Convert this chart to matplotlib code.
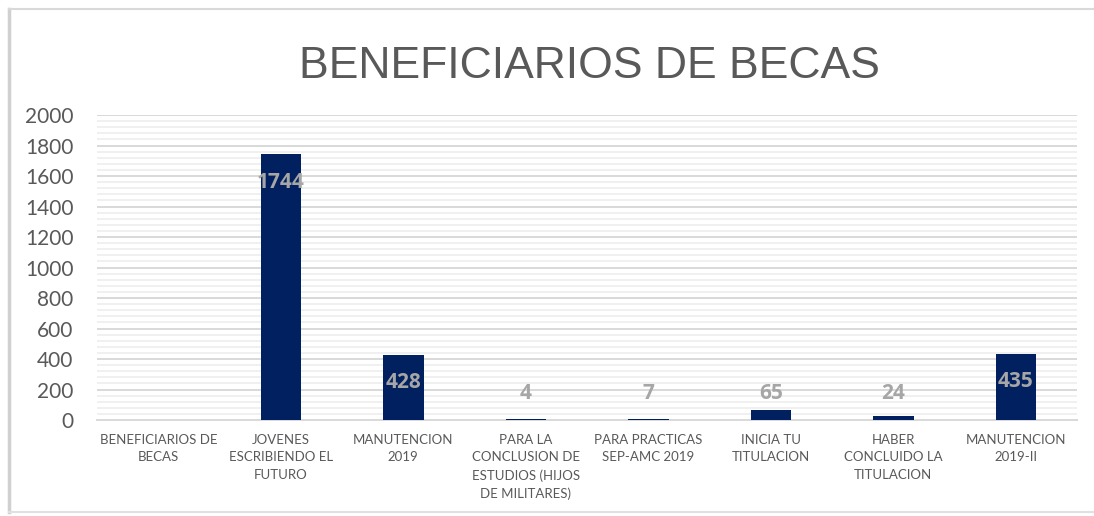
import matplotlib
matplotlib.use("Agg")
import matplotlib.pyplot as plt
from matplotlib.lines import Line2D
import numpy as np

plt.rcParams['font.family'] = ['Lato', 'DejaVu Sans']

categorias = ["BENEFICIARIOS DE\nBECAS", "JOVENES\nESCRIBIENDO EL\nFUTURO", "MANUTENCION\n2019",
              "PARA LA\nCONCLUSION DE\nESTUDIOS (HIJOS\nDE MILITARES)", "PARA PRACTICAS\nSEP-AMC 2019",
              "INICIA TU\nTITULACION", "HABER\nCONCLUIDO LA\nTITULACION", "MANUTENCION\n2019-II"]
valores = [0, 1744, 428, 4, 7, 65, 24, 435]
etiquetas = ["", "1744", "428", "4", "7", "65", "24", "435"]

fig = plt.figure(figsize=(10.94, 5.16), dpi=100)
ax = fig.add_axes([0.0887, 0.186, 0.8958, 0.591])

x = np.arange(len(categorias))
ax.bar(x, valores, width=0.33, color='#002060', zorder=3)

ax.set_xlim(-0.5, len(categorias) - 0.5)
ax.set_ylim(0, 2000)
ax.set_yticks(np.arange(0, 2001, 200))
ax.set_yticks(np.arange(0, 2001, 40), minor=True)
ax.grid(which='major', axis='y', color='#d9d9d9', linewidth=1.4, zorder=1)
ax.grid(which='minor', axis='y', color='#f0f0f0', linewidth=1.4, zorder=0)
ax.tick_params(axis='y', which='both', length=0, labelsize=15, labelcolor='#595959', pad=17)
ax.tick_params(axis='x', length=0, labelsize=9.5, labelcolor='#595959', pad=10)
ax.set_xticks(x)
ax.set_xticklabels(categorias, linespacing=1.55)
for s in ['top', 'right', 'left']:
    ax.spines[s].set_visible(False)
ax.spines['bottom'].set_color('#d9d9d9')
ax.spines['bottom'].set_linewidth(1.4)

for xi, v, t in zip(x, valores, etiquetas):
    if t:
        ax.text(xi, max(v - 184, 177), t, ha='center', va='center', fontsize=15,
                fontweight='bold', family=['Open Sans', 'DejaVu Sans'], color='#a6a6a6', zorder=4)

fig.text(0.539, 0.872, "BENEFICIARIOS DE BECAS", ha='center', va='center',
         fontsize=32, family=['Liberation Sans', 'DejaVu Sans'], color='#595959')

# marco del grafico
fig.add_artist(Line2D([0.0085, 0.0085], [0.008, 0.982], color='#d0d0d0', linewidth=2.5))
fig.add_artist(Line2D([0.0085, 1.0], [0.982, 0.982], color='#d9d9d9', linewidth=1.5))
fig.add_artist(Line2D([0.0085, 1.0], [0.008, 0.008], color='#e0e0e0', linewidth=1.5))

fig.savefig("out.png", dpi=100)
